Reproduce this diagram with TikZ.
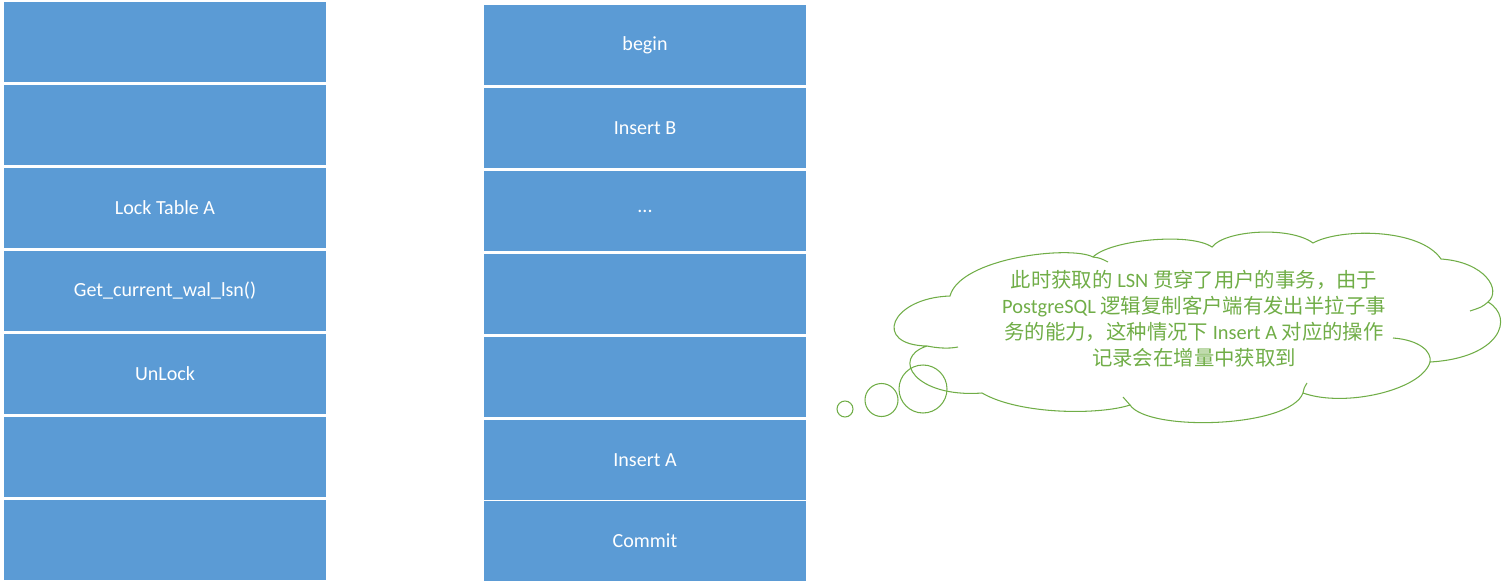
\documentclass[tikz,border=0pt]{standalone}
\usepackage{fontspec}
\setmainfont{Carlito}
\newfontfamily\cjk{Noto Sans CJK SC}
\usetikzlibrary{positioning}
\definecolor{boxblue}{RGB}{91,155,213}
\definecolor{cloudgreen}{RGB}{112,173,71}
\tikzset{blk/.style = {fill=boxblue, text=white, inner sep=0, outer sep=0,
                       minimum width=6.44cm, minimum height=1.6cm,
                       font=\fontsize{11.4}{13.7}\selectfont}}
\tikzset{bubble/.style = {draw=cloudgreen, line width=0.6pt}}

\begin{document}
\begin{tikzpicture}[x=0.02cm, y=-0.02cm]
    \useasboundingbox (0,0) rectangle (1507,581);

    % Draw left column
    \node [blk] (l1) at (165, 42) {};
    \node [blk, below=0.06cm of l1] (l2) {};
    \node [blk, below=0.06cm of l2] (l3) {Lock Table A};
    \node [blk, below=0.06cm of l3] (l4) {Get\_current\_wal\_lsn()};
    \node [blk, below=0.06cm of l4] (l5) {UnLock};
    \node [blk, below=0.06cm of l5] (l6) {};
    \node [blk, below=0.06cm of l6] (l7) {};

    % Draw middle column
    \node [blk] (m1) at (645, 45) {begin};
    \node [blk, below=0.06cm of m1] (m2) {Insert B};
    \node [blk, below=0.06cm of m2] (m3) {...};
    \node [blk, below=0.06cm of m3] (m4) {};
    \node [blk, below=0.06cm of m4] (m5) {};
    \node [blk, below=0.06cm of m5] (m6) {Insert A};
    \node [blk, below=0.02cm of m6] (m7) {Commit};

    % Draw cloud
    \draw [bubble] (927,346) .. controls (872,345) and (890,298) .. (950,296)
        .. controls (960,258) and (1070,245) .. (1093,257)
        .. controls (1110,240) and (1190,232) .. (1212,247)
        .. controls (1225,230) and (1290,226) .. (1313,243)
        .. controls (1340,228) and (1420,228) .. (1441,259)
        .. controls (1485,262) and (1502,290) .. (1488,302)
        .. controls (1515,318) and (1500,358) .. (1430,362)
        .. controls (1422,390) and (1345,408) .. (1303,393)
        .. controls (1290,428) and (1148,432) .. (1130,405)
        .. controls (1100,415) and (1020,415) .. (982,393)
        .. controls (915,398) and (890,358) .. (927,346);
    \draw [bubble] (927,346) .. controls (937,348) and (948,349) .. (958,347);
    \draw [bubble] (1093,257) .. controls (1100,258) .. (1108,262);
    \draw [bubble] (1488,302) .. controls (1482,307) .. (1470,311);
    \draw [bubble] (1393,338) .. controls (1420,340) and (1432,352) .. (1430,362);
    \draw [bubble] (1307,383) .. controls (1304,388) .. (1303,393);
    \draw [bubble] (1123,397) .. controls (1126,401) .. (1130,405);
    \draw [bubble] (845,409) circle (8);
    \draw [bubble] (881.5,400) circle (16.5);
    \draw [bubble] (923,389) circle (24);

    \node [text=cloudgreen, align=center, font=\fontsize{11.6}{14.8}\selectfont] (note) at (1194, 319)
        {{\cjk 此时获取的} LSN {\cjk 贯穿了用户的事务，由于}\\
         PostgreSQL {\cjk 逻辑复制客户端有发出半拉子事}\\
         {\cjk 务的能力，这种情况下} Insert A {\cjk 对应的操作}\\
         {\cjk 记录会在增量中获取到}};
\end{tikzpicture}
\end{document}
